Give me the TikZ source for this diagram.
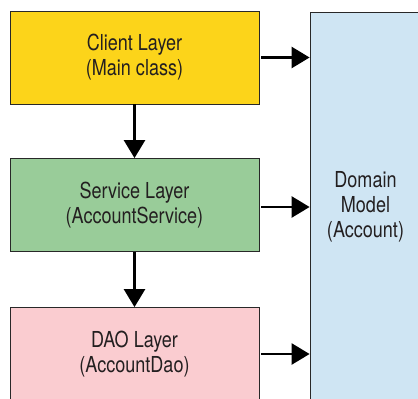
\documentclass[tikz,border=0pt]{standalone}
\usepackage{fontspec}
\setmainfont{TeX Gyre Heros}[FakeStretch=0.82]
\usetikzlibrary{arrows.meta,calc}
\definecolor{clientfill}{RGB}{252,212,26}
\definecolor{servicefill}{RGB}{153,204,153}
\definecolor{daofill}{RGB}{250,204,208}
\definecolor{domainfill}{RGB}{207,229,243}
\definecolor{txt}{RGB}{35,31,32}
\definecolor{edge}{RGB}{40,40,40}
\begin{document}
\begin{tikzpicture}[x=1pt,y=-1pt,
  layer/.style={draw=edge,line width=0.8pt,minimum width=249pt,minimum height=93pt,
    inner sep=0pt,align=center,text=txt,font=\fontsize{22}{25}\selectfont},
  modelbox/.style={draw=edge,line width=0.8pt,minimum width=111pt,minimum height=389pt,
    inner sep=0pt,align=center,text=txt,font=\fontsize{22}{25}\selectfont},
  flow/.style={line width=2.6pt,-{Triangle[length=18pt,width=21pt]}}]
\useasboundingbox (0,0) rectangle (418,399);
\clip (0,0) rectangle (418,399);
\node[layer,fill=clientfill] (client) at (134.5,57.5) {Client Layer\\(Main class)};
\node[layer,fill=servicefill] (service) at (134.5,205) {Service Layer\\(AccountService)};
\node[layer,fill=daofill] (dao) at (134.5,354) {DAO Layer\\(AccountDao)};
\node[modelbox,fill=domainfill] (dom) at (365.5,206.5) {Domain\\Model\\(Account)};
\draw[flow] (client.south) -- (service.north);
\draw[flow] (service.south) -- (dao.north);
\draw[flow] ($(client.east)+(2,0)$) -- (client.east -| dom.west);
\draw[flow] ($(service.east)+(2,2)$) -- ($(service.east -| dom.west)+(0,2)$);
\draw[flow] ($(dao.east)+(2,0)$) -- (dao.east -| dom.west);
\end{tikzpicture}
\end{document}
